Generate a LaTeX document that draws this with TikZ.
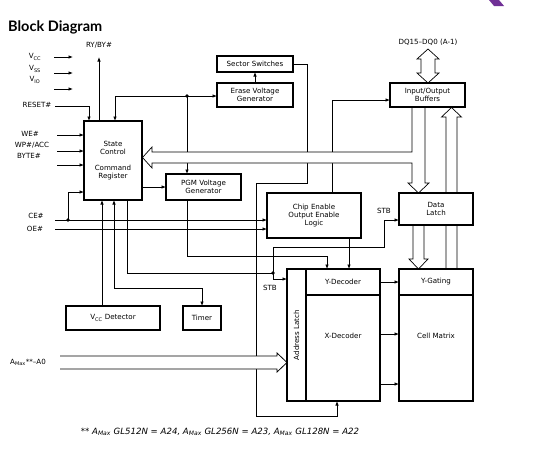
\documentclass[tikz,border=0pt]{standalone}
\usepackage{fontspec}
\setmainfont{DejaVu Sans}
\newfontfamily\titlefont{Lato}
\usetikzlibrary{arrows.meta, positioning, calc}
\definecolor{logopurple}{RGB}{112,48,150}
\newcommand{\dgfont}{\fontsize{7.1}{8}\selectfont}
\pgfdeclarelayer{sigs}
\pgfdeclarelayer{buses}
\pgfsetlayers{sigs,buses,main}

\begin{document}
\begin{tikzpicture}[
    x=1pt, y=-1pt,
    >={Latex[length=4.5pt,width=3.6pt]},
    blk/.style={draw, line width=1.5pt, fill=white, inner sep=0pt, outer sep=0pt, align=center, font=\dgfont},
    pinlbl/.style={inner sep=0pt, font=\dgfont},
    sig/.style={line width=0.8pt},
    bus/.style={draw, line width=0.7pt, fill=white},
]
    \useasboundingbox (0,0) rectangle (543,456);
    \fill[logopurple] (489,0) -- (499,0) -- (504,6) -- (494,6) -- cycle;
    \node[anchor=west, inner sep=0pt, font=\titlefont\bfseries\fontsize{14.5}{16}\selectfont] (title) at (8,27) {Block Diagram};

    % blocks
    \node[blk, minimum width=76, minimum height=16] (sector) at (255,64) {Sector Switches};
    \node[blk, minimum width=76, minimum height=24] (erase) at (255,95) {Erase Voltage\\Generator};
    \node[blk, minimum width=58, minimum height=79] (state) at (113,160.5) {State\\Control\\[8pt]Command\\Register};
    \node[blk, minimum width=75, minimum height=26] (pgm) at (203.5,187) {PGM Voltage\\Generator};
    \node[blk, minimum width=75, minimum height=24] (iobuf) at (427.5,95) {Input/Output\\Buffers};
    \node[blk, minimum width=94, minimum height=45] (chip) at (314,215.5) {Chip Enable\\Output Enable\\Logic};
    \node[blk, minimum width=74, minimum height=32] (latch) at (436,209) {Data\\Latch};
    \node[blk, minimum width=19, minimum height=132] (alatch) at (296.5,335) {\rotatebox{90}{Address Latch}};
    \node[blk, minimum width=74, minimum height=26] (ydec) at (343,282) {Y-Decoder};
    \node[blk, minimum width=74, minimum height=106, text depth=24pt] (xdec) at (343,348) {X-Decoder};
    \node[blk, minimum width=74, minimum height=26] (ygate) at (436,282) {Y-Gating};
    \node[blk, minimum width=74, minimum height=106, text depth=24pt] (cell) at (436,348) {Cell Matrix};
    \node[blk, minimum width=94, minimum height=24] (vccdet) at (113,318) {V\textsubscript{CC} Detector};
    \node[blk, minimum width=38, minimum height=24] (timer) at (202,318) {Timer};

    % pin labels
    \node[pinlbl] (vcc) at (35,57) {V\textsubscript{CC}};
    \node[pinlbl] (vss) at (35,69) {V\textsubscript{SS}};
    \node[pinlbl] (vio) at (35,80) {V\textsubscript{IO}};
    \node[pinlbl] (reset) at (37,105) {RESET\#};
    \node[pinlbl] (ryby) at (99,45) {RY/BY\#};
    \node[pinlbl] (we) at (30,134) {WE\#};
    \node[pinlbl] (wp) at (32,145) {WP\#/ACC};
    \node[pinlbl] (byte) at (29,156) {BYTE\#};
    \node[pinlbl] (ce) at (36,216) {CE\#};
    \node[pinlbl] (oe) at (35,229) {OE\#};
    \node[pinlbl] (amax) at (28,362) {A\textsubscript{Max}**--A0};
    \node[pinlbl] (dq) at (428,42) {DQ15--DQ0 (A-1)};
    \node[pinlbl] (stba) at (270,288) {STB};
    \node[pinlbl] (stbb) at (384,211) {STB};
    \node[pinlbl, font=\fontsize{8.6}{10}\selectfont\itshape] (note) at (220,432) {** A\textsubscript{Max} GL512N = A24, A\textsubscript{Max} GL256N = A23, A\textsubscript{Max} GL128N = A22};

    \begin{pgfonlayer}{sigs}
    % supplies and control pins
    \coordinate (vccin) at (54,57);
    \coordinate (vssin) at (54,73);
    \coordinate (vioin) at (54,89);
    \foreach \p in {vccin,vssin,vioin}
        \draw[sig,->] (\p) -- ++(19,0);
    \coordinate (resetin) at (55,106);
    \draw[sig,->] (resetin) -| ([xshift=-24]state.north);
    \coordinate (rybyout) at (99,57);
    \draw[sig,->] (state.north -| rybyout) -- (rybyout);
    \coordinate (wein) at (57,135);
    \coordinate (wpin) at (57,151);
    \coordinate (bytein) at (57,165);
    \foreach \p in {wein,wpin,bytein}
        \draw[sig,->] (\p) -- (\p -| state.west);
    \coordinate (cein) at (55,220);
    \coordinate (oein) at (55,229);
    \draw[sig,->] (cein) -- (cein -| chip.west);
    \draw[sig,->] (oein) -- (oein -| chip.west);
    \coordinate (cetap) at (68,220);
    \draw[sig,->] (cetap) |- ([yshift=-31.5]state.west);
    \fill (cetap) circle (1.8);

    % control to voltage generators
    \coordinate (ctltap) at (187,96);
    \draw[sig,->] (ctltap) -| ([xshift=2]state.north);
    \draw[sig,->] (ctltap) -- (ctltap -| erase.west);
    \draw[sig,->] (ctltap) -- (ctltap |- pgm.north);
    \fill (ctltap) circle (1.8);
    \draw[sig,->] (erase.north) -- (sector.south);
    \draw[sig,->] (state.east |- pgm.west) -- (pgm.west);

    % taps on the internal bus
    \coordinate (sectap) at (307,152);
    \draw[sig] (sector.east) -| (sectap);
    \coordinate (iotap) at (332,152);
    \draw[sig,->] (iotap) |- ([yshift=-5]iobuf.west);
    \coordinate (cetop) at (332,163);
    \draw[sig] (cetop) -- (cetop |- chip.north);
    \coordinate (xdtap) at (307,163);
    \coordinate (xdleft) at (256,183);
    \coordinate (xdbot) at (256,416);
    \draw[sig,->] (xdtap) |- (xdleft) -- (xdbot) -| ([xshift=-6]xdec.south);

    % decoder inputs
    \coordinate (pgmbend) at (187,256);
    \draw[sig,->] (pgm.south -| pgmbend) -- (pgmbend) -| ([xshift=-16]ydec.north);
    \coordinate (chipout) at ([xshift=35]chip.south);
    \draw[sig,->] (chipout) -- (chipout |- ydec.north);
    \coordinate (stbtap) at (273,273);
    \coordinate (stbup) at (384,247);
    \draw[sig] ([xshift=14]state.south) |- (stbtap);
    \draw[sig,->] (stbtap) |- ([yshift=56]alatch.west);
    \draw[sig,->] (stbtap) |- (stbup) |- ([yshift=-11]latch.west);
    \fill (stbtap) circle (1.8);

    % timer and detector
    \coordinate (tmrbend) at (114,288);
    \draw[sig,<->] (state.south -| tmrbend) -- (tmrbend) -| (timer.north);
    \draw[sig,->] ([xshift=-11]vccdet.north) -- ([xshift=-11]state.south);

    % decoders to array
    \draw[sig,->] (ydec.east) -- (ygate.west);
    \draw[sig,->] ([yshift=14]xdec.east) -- ([yshift=14]cell.west);
    \draw[sig,->] ([yshift=-36]xdec.east) -- ([yshift=-36]cell.west);
    \end{pgfonlayer}

    \begin{pgfonlayer}{buses}
    % data bus
    \draw[bus] (428,49) -- (439,59) -- (435,59) -- (435,73) -- (439,73) -- (428,83) -- (417,73) -- (421,73) -- (421,59) -- (417,59) -- cycle;
    \draw[bus] (412,107) -- (412,152) -- (152,152) -- (152,147) -- (142.5,157.5) -- (152,168) -- (152,163) -- (412,163) -- (412,183) -- (408,183) -- (418.5,193) -- (429,183) -- (425,183) -- (425,107) -- cycle;
    \draw[bus] (446,269) -- (446,117) -- (441.5,117) -- (451.5,107.5) -- (461.5,117) -- (457,117) -- (457,269) -- cycle;
    \draw[bus] (413,225) -- (413,259) -- (409,259) -- (418.5,269) -- (428,259) -- (424,259) -- (424,225) -- cycle;
    % address bus
    \fill[white] (60,356) -- (277,356) -- (277,353) -- (287,362.5) -- (277,372) -- (277,369) -- (60,369) -- cycle;
    \draw[sig] (60,356) -- (277,356) -- (277,353) -- (287,362.5) -- (277,372) -- (277,369) -- (60,369);
    \end{pgfonlayer}
\end{tikzpicture}
\end{document}
